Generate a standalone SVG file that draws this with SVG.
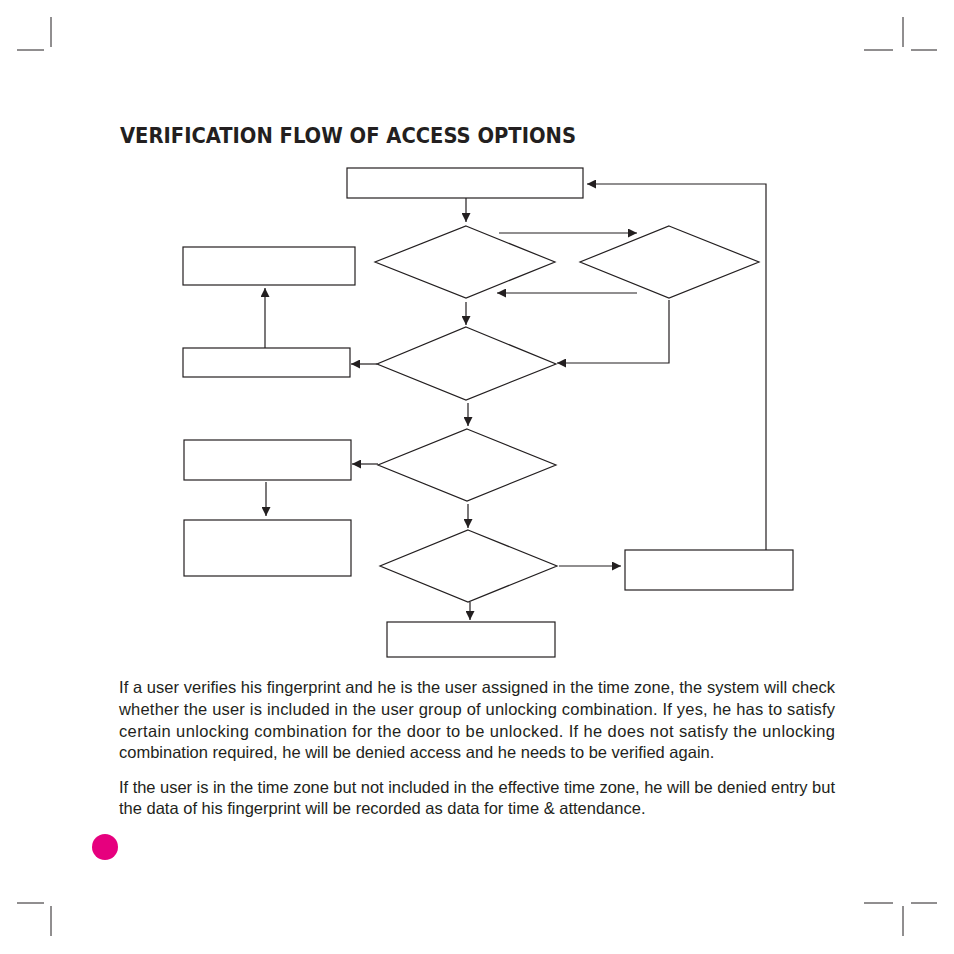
<svg xmlns="http://www.w3.org/2000/svg" width="954" height="954" viewBox="0 0 954 954">
<defs>
<marker id="ah" viewBox="0 0 10 10" refX="10" refY="5" markerWidth="9" markerHeight="9" markerUnits="userSpaceOnUse" orient="auto"><path d="M0,0 L10,5 L0,10 z" fill="#231f20"/></marker>
<style>
.n{fill:#fff;stroke:#231f20;stroke-width:1.2}
.c{fill:none;stroke:#231f20;stroke-width:1.2;marker-end:url(#ah)}
.l{fill:none;stroke:#231f20;stroke-width:1.2}
.m{stroke:#231f20;stroke-width:1}
.p{font-family:"Liberation Sans",Arial,sans-serif;font-size:16.5px;fill:#231f20}
</style>
</defs>
<rect width="954" height="954" fill="#fff"/>
<g id="crop">
<line class="m" x1="51" y1="17" x2="51" y2="47"/><line class="m" x1="17" y1="50" x2="44" y2="50"/>
<line class="m" x1="903" y1="17" x2="903" y2="47"/><line class="m" x1="864" y1="50" x2="893" y2="50"/><line class="m" x1="911" y1="50" x2="937" y2="50"/>
<line class="m" x1="51" y1="906" x2="51" y2="936"/><line class="m" x1="17" y1="903" x2="44" y2="903"/>
<line class="m" x1="903" y1="906" x2="903" y2="936"/><line class="m" x1="864" y1="903" x2="893" y2="903" stroke-width="2"/><line class="m" x1="911" y1="903" x2="937" y2="903" stroke-width="2"/>
</g>
<text x="120" y="143" font-family="'DejaVu Sans Condensed','DejaVu Sans',sans-serif" font-weight="bold" font-size="22" textLength="456" lengthAdjust="spacingAndGlyphs" fill="#231f20">VERIFICATION FLOW OF ACCESS OPTIONS</text>
<g id="connectors">
<path class="c" d="M466,198 V222"/>
<path class="c" d="M499,233 H637"/>
<path class="c" d="M637,293 H497"/>
<path class="c" d="M466,302 V325"/>
<path class="c" d="M669,300 V363 H557"/>
<path class="c" d="M377,364 H351"/>
<path class="c" d="M265,348 V288"/>
<path class="c" d="M468,403 V426"/>
<path class="c" d="M378,464 H352"/>
<path class="c" d="M266,482 V516"/>
<path class="c" d="M468,504 V528"/>
<path class="c" d="M559,566 H621"/>
<path class="c" d="M766,550 V184 H587"/>
<path class="c" d="M470,602 V620"/>
</g>
<g id="n1"><rect class="n" x="347" y="168" width="236" height="30"/></g>
<g id="n2"><polygon class="n" points="466,226 555,262 466,298 375,262"/></g>
<g id="n3"><polygon class="n" points="669,226 759,262 669,298 580,262"/></g>
<g id="n4"><rect class="n" x="183" y="247" width="172" height="38"/></g>
<g id="n5"><rect class="n" x="183" y="348" width="167" height="29"/></g>
<g id="n6"><polygon class="n" points="466,327 556,364 466,400 377,364"/></g>
<g id="n7"><polygon class="n" points="467,429 556,465 467,501 378,465"/></g>
<g id="n8"><rect class="n" x="184" y="440" width="167" height="40"/></g>
<g id="n9"><rect class="n" x="184" y="520" width="167" height="56"/></g>
<g id="n10"><polygon class="n" points="468,530 557,566 468,602 380,566"/></g>
<g id="n11"><rect class="n" x="625" y="550" width="168" height="40"/></g>
<g id="n12"><rect class="n" x="387" y="622" width="168" height="35"/></g>
<g id="para" class="p">
<text x="119" y="693" textLength="716" lengthAdjust="spacing">If a user verifies his fingerprint and he is the user assigned in the time zone, the system will check</text>
<text x="119" y="715" textLength="716" lengthAdjust="spacing">whether the user is included in the user group of unlocking combination. If yes, he has to satisfy</text>
<text x="119" y="737" textLength="716" lengthAdjust="spacing">certain unlocking combination for the door to be unlocked. If he does not satisfy the unlocking</text>
<text x="119" y="758">combination required, he will be denied access and he needs to be verified again.</text>
<text x="119" y="793" textLength="716" lengthAdjust="spacing">If the user is in the time zone but not included in the effective time zone, he will be denied entry but</text>
<text x="119" y="814">the data of his fingerprint will be recorded as data for time &amp; attendance.</text>
</g>
<circle cx="105" cy="847" r="13" fill="#e6007e"/>
</svg>
